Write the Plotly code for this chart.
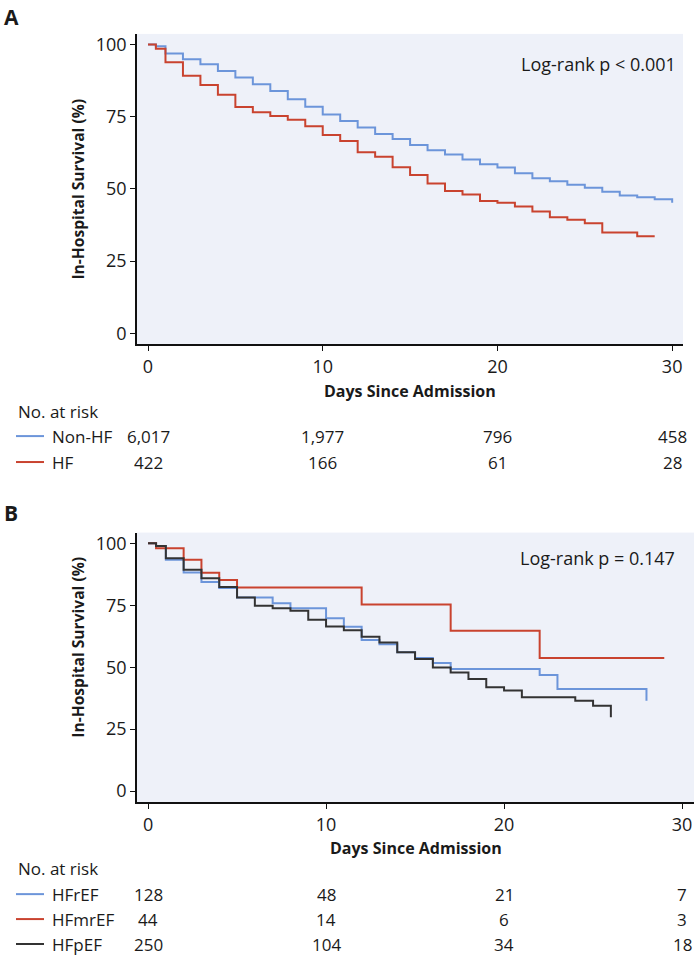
import plotly.graph_objects as go

# ---------------- data ----------------
# Panel A
nonhf_days = [0, 0.45, 1, 2, 3, 4, 5, 6, 7, 8, 9, 10, 11, 12, 13, 14, 15, 16, 17, 18, 19, 20,
              21, 22, 23, 24, 25, 26, 27, 28, 29, 30]
nonhf_surv = [100, 99.4, 96.9, 94.9, 93.2, 90.9, 88.6, 86.3, 83.9, 81.1, 78.5, 75.8, 73.5, 71.3,
              69.0, 67.3, 65.2, 63.4, 61.9, 60.2, 58.6, 57.4, 55.4, 53.7, 52.7, 51.5, 50.4, 49.0,
              47.7, 47.1, 46.4, 45.2]
hf_days = [0, 0.45, 1, 2, 3, 4, 5, 6, 7, 8, 9, 10, 11, 12, 13, 14, 15, 16, 17, 18, 19, 20, 21,
           22, 23, 24, 25, 26, 28, 29]
hf_surv = [100, 98.6, 93.9, 89.2, 86.0, 82.6, 78.4, 76.6, 75.3, 74.0, 71.7, 68.7, 66.6, 62.7,
           61.2, 57.5, 54.8, 51.9, 49.3, 48.1, 45.8, 45.2, 43.9, 42.2, 40.2, 39.3, 38.1, 34.9,
           33.6, 33.6]

# Panel B
hfref_days = [0, 0.45, 1, 2, 3, 4, 5, 7, 8, 10, 11, 12, 13, 14, 15, 16, 17, 22, 23, 28]
hfref_surv = [100, 98.9, 93.3, 88.2, 84.4, 81.9, 78.1, 75.8, 73.8, 69.7, 66.3, 61.0, 59.3, 56.0,
              53.7, 51.7, 49.3, 46.9, 41.2, 36.5]
hfmref_days = [0, 0.45, 2, 3, 4, 5, 12, 17, 22, 29]
hfmref_surv = [100, 98.0, 93.3, 88.1, 85.2, 82.2, 75.3, 64.7, 53.7, 53.7]
hfpef_days = [0, 0.45, 1, 2, 3, 4, 5, 6, 7, 8, 9, 10, 11, 12, 13, 14, 15, 16, 17, 18, 19, 20,
              21, 24, 25, 26]
hfpef_surv = [100, 98.9, 94.0, 89.3, 85.9, 82.4, 78.1, 74.8, 73.8, 72.8, 69.1, 66.4, 64.9, 62.3,
              60.0, 56.0, 53.3, 49.9, 47.9, 45.2, 41.9, 40.6, 37.9, 36.5, 34.5, 29.8]

risk_times = [0, 10, 20, 30]
groups_a = ["Non-HF", "HF"]
risk_a = [["6,017", "1,977", "796", "458"], ["422", "166", "61", "28"]]
groups_b = ["HFrEF", "HFmrEF", "HFpEF"]
risk_b = [["128", "48", "21", "7"], ["44", "14", "6", "3"], ["250", "104", "34", "18"]]

y_ticks = [0, 25, 50, 75, 100]
x_ticks = [0, 10, 20, 30]
pvalue_a = "Log-rank p < 0.001"
pvalue_b = "Log-rank p = 0.147"

# ---------------- styling ----------------
W, H = 694, 955
BLUE = "#6C95DA"
RED = "#C9432F"
BLACK = "#333333"
BG = "#EEF1F9"
TXT = "#1a1a1a"
FONT = "Open Sans"


def px(x):
    return x / W


def py(y):
    return 1 - y / H


fig = go.Figure()

for days, surv, col, name in [(nonhf_days, nonhf_surv, BLUE, "Non-HF"),
                              (hf_days, hf_surv, RED, "HF")]:
    fig.add_trace(go.Scatter(x=days, y=surv, mode="lines", line=dict(color=col, width=2, shape="hv"),
                             name=name, xaxis="x", yaxis="y", showlegend=False))

for days, surv, col, name in [(hfref_days, hfref_surv, BLUE, "HFrEF"),
                              (hfmref_days, hfmref_surv, RED, "HFmrEF"),
                              (hfpef_days, hfpef_surv, BLACK, "HFpEF")]:
    fig.add_trace(go.Scatter(x=days, y=surv, mode="lines", line=dict(color=col, width=2, shape="hv"),
                             name=name, xaxis="x2", yaxis="y2", showlegend=False))

axis_common = dict(showline=True, linecolor="#111111", linewidth=1.6, ticks="outside", ticklen=5,
                   tickwidth=1.3, tickcolor="#111111", showgrid=False, zeroline=False,
                   tickfont=dict(family=FONT, size=18, color=TXT))

fig.update_layout(
    width=W, height=H, margin=dict(l=0, r=0, t=0, b=0),
    paper_bgcolor="white", plot_bgcolor=BG,
    xaxis=dict(domain=[px(137), px(683)], range=[-0.63, 30.62], tickvals=x_ticks, anchor="y",
               **axis_common),
    yaxis=dict(domain=[py(343), py(32)], range=[-3.8, 103.7], tickvals=y_ticks, anchor="x",
               **axis_common),
    xaxis2=dict(domain=[px(137), px(694)], range=[-0.62, 30.67], tickvals=x_ticks, anchor="y2",
                **axis_common),
    yaxis2=dict(domain=[py(802), py(531.7)], range=[-4.5, 104.3], tickvals=y_ticks, anchor="x2",
                **axis_common),
)

ann = []
shapes = []


def text(x, y, s, size=17, bold=False, xanchor="left", xref="paper", angle=0):
    ann.append(dict(x=x if xref != "paper" else px(x), y=py(y), xref=xref, yref="paper",
                    text=f"<b>{s}</b>" if bold else s, showarrow=False, xanchor=xanchor,
                    yanchor="middle", textangle=angle,
                    font=dict(family=FONT, size=size, color=TXT)))


# panel letters
text(2, 15, "A", size=21, bold=True)
text(2, 512, "B", size=21, bold=True)

# y titles
text(78, 188, "In-Hospital Survival (%)", size=15.6, bold=True, xanchor="center", angle=-90)
text(78, 647, "In-Hospital Survival (%)", size=15.6, bold=True, xanchor="center", angle=-90)

# x titles
text(410, 390, "Days Since Admission", size=16, bold=True, xanchor="center")
text(415.5, 848, "Days Since Admission", size=16, bold=True, xanchor="center")

# log-rank
text(678, 62, pvalue_a, size=18, xanchor="right")
text(677, 557, pvalue_b, size=18, xanchor="right")

# risk tables
text(16, 410, "No. at risk")
rows_a_y = [435, 461]
for g, vals, col, yy in zip(groups_a, risk_a, [BLUE, RED], rows_a_y):
    shapes.append(dict(type="line", xref="paper", yref="paper", x0=px(16), x1=px(44),
                       y0=py(yy), y1=py(yy), line=dict(color=col, width=2)))
    text(50, yy, g)
    for t, v in zip(risk_times, vals):
        text(t, yy, v, xanchor="center", xref="x")

text(16, 868, "No. at risk")
rows_b_y = [894, 919, 944]
for g, vals, col, yy in zip(groups_b, risk_b, [BLUE, RED, BLACK], rows_b_y):
    shapes.append(dict(type="line", xref="paper", yref="paper", x0=px(16), x1=px(44),
                       y0=py(yy), y1=py(yy), line=dict(color=col, width=2)))
    text(50, yy, g)
    for t, v in zip(risk_times, vals):
        text(t, yy, v, xanchor="center", xref="x2")

fig.update_layout(annotations=ann, shapes=shapes)
fig.write_html(
    "out.html",
    config={"displayModeBar": False},
    post_script=("document.body.style.margin='0';document.body.style.padding='0';"
                 "document.body.style.overflow='hidden';"
                 "document.documentElement.style.overflow='hidden';"),
)
